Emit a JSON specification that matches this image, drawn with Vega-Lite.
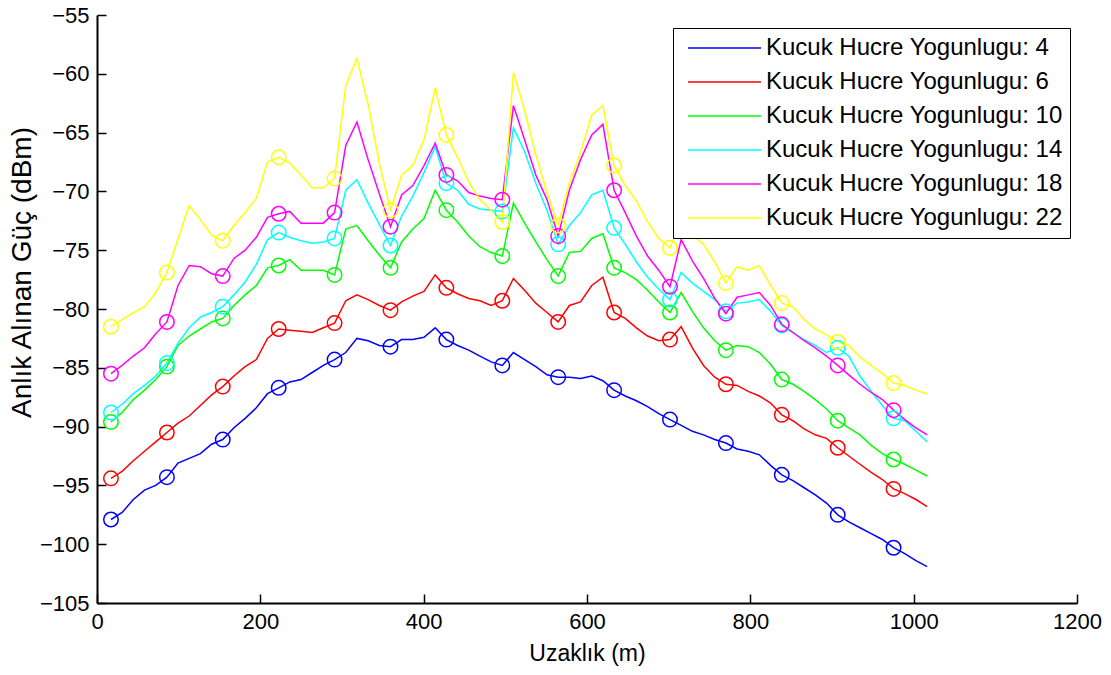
{
"$schema": "https://vega.github.io/schema/vega-lite/v6.json",
"width": 980, "height": 588,
"autosize": {"type": "none"},
"padding": {"left": 97, "top": 15, "right": 34, "bottom": 72},
"background": "white",
"config": {
 "view": {"stroke": null},
 "font": "Liberation Sans, Arial, sans-serif",
 "axis": {"grid": false, "domainColor": "black", "domainWidth": 2, "tickColor": "black", "tickWidth": 1.5, "tickSize": -9, "labelPadding": 17, "labelFontSize": 22, "labelColor": "black", "titleFontSize": 23, "titleFontWeight": "normal", "titleColor": "black", "labelFlush": false}
},
"data": {"values": [
{"n":4,"d":17.1,"p":-97.9,"o":1},{"n":4,"d":30.8,"p":-97.3},{"n":4,"d":44.5,"p":-96.2},{"n":4,"d":58.2,"p":-95.4},{"n":4,"d":71.9,"p":-95.0},
{"n":4,"d":85.6,"p":-94.3,"o":1},{"n":4,"d":99.2,"p":-93.1},{"n":4,"d":112.9,"p":-92.7},{"n":4,"d":126.6,"p":-92.3},{"n":4,"d":140.3,"p":-91.5},
{"n":4,"d":154.0,"p":-91.1,"o":1},{"n":4,"d":167.7,"p":-90.1},{"n":4,"d":181.4,"p":-89.3},{"n":4,"d":195.1,"p":-88.4},{"n":4,"d":208.8,"p":-87.2},
{"n":4,"d":222.5,"p":-86.7,"o":1},{"n":4,"d":236.1,"p":-86.2},{"n":4,"d":249.8,"p":-86.0},{"n":4,"d":263.5,"p":-85.4},{"n":4,"d":277.2,"p":-84.8},
{"n":4,"d":290.9,"p":-84.3,"o":1},{"n":4,"d":304.6,"p":-83.7},{"n":4,"d":318.3,"p":-82.5},{"n":4,"d":332.0,"p":-82.7},{"n":4,"d":345.7,"p":-83.1},
{"n":4,"d":359.4,"p":-83.2,"o":1},{"n":4,"d":373.0,"p":-82.6},{"n":4,"d":386.7,"p":-82.6},{"n":4,"d":400.4,"p":-82.4},{"n":4,"d":414.1,"p":-81.6},
{"n":4,"d":427.8,"p":-82.6,"o":1},{"n":4,"d":441.5,"p":-83.1},{"n":4,"d":455.2,"p":-83.5},{"n":4,"d":468.9,"p":-84.0},{"n":4,"d":482.6,"p":-84.5},
{"n":4,"d":496.3,"p":-84.8,"o":1},{"n":4,"d":509.9,"p":-83.7},{"n":4,"d":523.6,"p":-84.3},{"n":4,"d":537.3,"p":-84.9},{"n":4,"d":551.0,"p":-85.6},
{"n":4,"d":564.7,"p":-85.8,"o":1},{"n":4,"d":578.4,"p":-85.8},{"n":4,"d":592.1,"p":-85.9},{"n":4,"d":605.8,"p":-85.7},{"n":4,"d":619.5,"p":-86.1},
{"n":4,"d":633.2,"p":-86.9,"o":1},{"n":4,"d":646.8,"p":-87.4},{"n":4,"d":660.5,"p":-87.8},{"n":4,"d":674.2,"p":-88.3},{"n":4,"d":687.9,"p":-88.9},
{"n":4,"d":701.6,"p":-89.4,"o":1},{"n":4,"d":715.3,"p":-89.9},{"n":4,"d":729.0,"p":-90.4},{"n":4,"d":742.7,"p":-90.7},{"n":4,"d":756.4,"p":-91.1},
{"n":4,"d":770.1,"p":-91.4,"o":1},{"n":4,"d":783.7,"p":-91.9},{"n":4,"d":797.4,"p":-92.1},{"n":4,"d":811.1,"p":-92.4},{"n":4,"d":824.8,"p":-93.3},
{"n":4,"d":838.5,"p":-94.1,"o":1},{"n":4,"d":852.2,"p":-94.6},{"n":4,"d":865.9,"p":-95.2},{"n":4,"d":879.6,"p":-95.8},{"n":4,"d":893.3,"p":-96.5},
{"n":4,"d":907.0,"p":-97.5,"o":1},{"n":4,"d":920.6,"p":-98.1},{"n":4,"d":934.3,"p":-98.6},{"n":4,"d":948.0,"p":-99.1},{"n":4,"d":961.7,"p":-99.6},
{"n":4,"d":975.4,"p":-100.3,"o":1},{"n":4,"d":989.1,"p":-100.8},{"n":4,"d":1002.8,"p":-101.4},{"n":4,"d":1016.5,"p":-101.9},

{"n":6,"d":17.1,"p":-94.4,"o":1},{"n":6,"d":30.8,"p":-93.8},{"n":6,"d":44.5,"p":-92.9},{"n":6,"d":58.2,"p":-92.1},{"n":6,"d":71.9,"p":-91.3},
{"n":6,"d":85.6,"p":-90.5,"o":1},{"n":6,"d":99.2,"p":-89.7},{"n":6,"d":112.9,"p":-89.1},{"n":6,"d":126.6,"p":-88.2},{"n":6,"d":140.3,"p":-87.3},
{"n":6,"d":154.0,"p":-86.6,"o":1},{"n":6,"d":167.7,"p":-85.7},{"n":6,"d":181.4,"p":-84.9},{"n":6,"d":195.1,"p":-84.3},{"n":6,"d":208.8,"p":-82.5},
{"n":6,"d":222.5,"p":-81.7,"o":1},{"n":6,"d":236.1,"p":-81.8},{"n":6,"d":249.8,"p":-81.9},{"n":6,"d":263.5,"p":-82.0},{"n":6,"d":277.2,"p":-81.6},
{"n":6,"d":290.9,"p":-81.2,"o":1},{"n":6,"d":304.6,"p":-79.3},{"n":6,"d":318.3,"p":-78.8},{"n":6,"d":332.0,"p":-79.2},{"n":6,"d":345.7,"p":-79.7},
{"n":6,"d":359.4,"p":-80.1,"o":1},{"n":6,"d":373.0,"p":-79.4},{"n":6,"d":386.7,"p":-78.9},{"n":6,"d":400.4,"p":-78.5},{"n":6,"d":414.1,"p":-77.1},
{"n":6,"d":427.8,"p":-78.2,"o":1},{"n":6,"d":441.5,"p":-78.7},{"n":6,"d":455.2,"p":-79.1},{"n":6,"d":468.9,"p":-79.3},{"n":6,"d":482.6,"p":-79.7},
{"n":6,"d":496.3,"p":-79.3,"o":1},{"n":6,"d":509.9,"p":-77.4},{"n":6,"d":523.6,"p":-78.4},{"n":6,"d":537.3,"p":-79.5},{"n":6,"d":551.0,"p":-80.3},
{"n":6,"d":564.7,"p":-81.1,"o":1},{"n":6,"d":578.4,"p":-79.7},{"n":6,"d":592.1,"p":-79.4},{"n":6,"d":605.8,"p":-78.0},{"n":6,"d":619.5,"p":-77.3},
{"n":6,"d":633.2,"p":-80.3,"o":1},{"n":6,"d":646.8,"p":-80.8},{"n":6,"d":660.5,"p":-81.6},{"n":6,"d":674.2,"p":-82.3},{"n":6,"d":687.9,"p":-82.7},
{"n":6,"d":701.6,"p":-82.6,"o":1},{"n":6,"d":715.3,"p":-81.5},{"n":6,"d":729.0,"p":-83.3},{"n":6,"d":742.7,"p":-84.8},{"n":6,"d":756.4,"p":-85.8},
{"n":6,"d":770.1,"p":-86.4,"o":1},{"n":6,"d":783.7,"p":-86.5},{"n":6,"d":797.4,"p":-87.0},{"n":6,"d":811.1,"p":-87.4},{"n":6,"d":824.8,"p":-88.0},
{"n":6,"d":838.5,"p":-89.0,"o":1},{"n":6,"d":852.2,"p":-89.5},{"n":6,"d":865.9,"p":-90.2},{"n":6,"d":879.6,"p":-90.7},{"n":6,"d":893.3,"p":-91.0},
{"n":6,"d":907.0,"p":-91.8,"o":1},{"n":6,"d":920.6,"p":-92.5},{"n":6,"d":934.3,"p":-93.2},{"n":6,"d":948.0,"p":-93.9},{"n":6,"d":961.7,"p":-94.5},
{"n":6,"d":975.4,"p":-95.3,"o":1},{"n":6,"d":989.1,"p":-95.7},{"n":6,"d":1002.8,"p":-96.2},{"n":6,"d":1016.5,"p":-96.8},

{"n":10,"d":17.1,"p":-89.6,"o":1},{"n":10,"d":30.8,"p":-88.8},{"n":10,"d":44.5,"p":-87.7},{"n":10,"d":58.2,"p":-86.9},{"n":10,"d":71.9,"p":-86.0},
{"n":10,"d":85.6,"p":-84.9,"o":1},{"n":10,"d":99.2,"p":-83.1},{"n":10,"d":112.9,"p":-82.3},{"n":10,"d":126.6,"p":-81.7},{"n":10,"d":140.3,"p":-81.1},
{"n":10,"d":154.0,"p":-80.8,"o":1},{"n":10,"d":167.7,"p":-79.7},{"n":10,"d":181.4,"p":-78.8},{"n":10,"d":195.1,"p":-78.0},{"n":10,"d":208.8,"p":-76.5},
{"n":10,"d":222.5,"p":-76.3,"o":1},{"n":10,"d":236.1,"p":-75.8},{"n":10,"d":249.8,"p":-76.7},{"n":10,"d":263.5,"p":-76.7},{"n":10,"d":277.2,"p":-76.7},
{"n":10,"d":290.9,"p":-77.1,"o":1},{"n":10,"d":304.6,"p":-73.2},{"n":10,"d":318.3,"p":-72.9},{"n":10,"d":332.0,"p":-74.2},{"n":10,"d":345.7,"p":-75.4},
{"n":10,"d":359.4,"p":-76.5,"o":1},{"n":10,"d":373.0,"p":-74.3},{"n":10,"d":386.7,"p":-73.2},{"n":10,"d":400.4,"p":-72.3},{"n":10,"d":414.1,"p":-69.9},
{"n":10,"d":427.8,"p":-71.6,"o":1},{"n":10,"d":441.5,"p":-72.6},{"n":10,"d":455.2,"p":-73.8},{"n":10,"d":468.9,"p":-74.7},{"n":10,"d":482.6,"p":-75.2},
{"n":10,"d":496.3,"p":-75.5,"o":1},{"n":10,"d":509.9,"p":-71.0},{"n":10,"d":523.6,"p":-72.7},{"n":10,"d":537.3,"p":-74.3},{"n":10,"d":551.0,"p":-75.8},
{"n":10,"d":564.7,"p":-77.2,"o":1},{"n":10,"d":578.4,"p":-75.2},{"n":10,"d":592.1,"p":-75.1},{"n":10,"d":605.8,"p":-74.0},{"n":10,"d":619.5,"p":-73.6},
{"n":10,"d":633.2,"p":-76.5,"o":1},{"n":10,"d":646.8,"p":-76.9},{"n":10,"d":660.5,"p":-77.5},{"n":10,"d":674.2,"p":-78.4},{"n":10,"d":687.9,"p":-79.4},
{"n":10,"d":701.6,"p":-80.3,"o":1},{"n":10,"d":715.3,"p":-78.6},{"n":10,"d":729.0,"p":-80.2},{"n":10,"d":742.7,"p":-81.6},{"n":10,"d":756.4,"p":-82.7},
{"n":10,"d":770.1,"p":-83.5,"o":1},{"n":10,"d":783.7,"p":-83.1},{"n":10,"d":797.4,"p":-83.2},{"n":10,"d":811.1,"p":-83.7},{"n":10,"d":824.8,"p":-84.7},
{"n":10,"d":838.5,"p":-86.0,"o":1},{"n":10,"d":852.2,"p":-86.4},{"n":10,"d":865.9,"p":-87.0},{"n":10,"d":879.6,"p":-87.7},{"n":10,"d":893.3,"p":-88.5},
{"n":10,"d":907.0,"p":-89.5,"o":1},{"n":10,"d":920.6,"p":-90.1},{"n":10,"d":934.3,"p":-90.7},{"n":10,"d":948.0,"p":-91.6},{"n":10,"d":961.7,"p":-92.3},
{"n":10,"d":975.4,"p":-92.8,"o":1},{"n":10,"d":989.1,"p":-93.2},{"n":10,"d":1002.8,"p":-93.7},{"n":10,"d":1016.5,"p":-94.2},

{"n":14,"d":17.1,"p":-88.8,"o":1},{"n":14,"d":30.8,"p":-88.1},{"n":14,"d":44.5,"p":-87.2},{"n":14,"d":58.2,"p":-86.5},{"n":14,"d":71.9,"p":-85.7},
{"n":14,"d":85.6,"p":-84.6,"o":1},{"n":14,"d":99.2,"p":-82.9},{"n":14,"d":112.9,"p":-81.6},{"n":14,"d":126.6,"p":-80.7},{"n":14,"d":140.3,"p":-80.3},
{"n":14,"d":154.0,"p":-79.8,"o":1},{"n":14,"d":167.7,"p":-78.8},{"n":14,"d":181.4,"p":-77.7},{"n":14,"d":195.1,"p":-76.2},{"n":14,"d":208.8,"p":-74.1},
{"n":14,"d":222.5,"p":-73.5,"o":1},{"n":14,"d":236.1,"p":-73.9},{"n":14,"d":249.8,"p":-74.2},{"n":14,"d":263.5,"p":-74.4},{"n":14,"d":277.2,"p":-74.3},
{"n":14,"d":290.9,"p":-74.0,"o":1},{"n":14,"d":304.6,"p":-69.9},{"n":14,"d":318.3,"p":-69.0},{"n":14,"d":332.0,"p":-71.0},{"n":14,"d":345.7,"p":-72.8},
{"n":14,"d":359.4,"p":-74.6,"o":1},{"n":14,"d":373.0,"p":-72.1},{"n":14,"d":386.7,"p":-70.4},{"n":14,"d":400.4,"p":-68.4},{"n":14,"d":414.1,"p":-66.2},
{"n":14,"d":427.8,"p":-69.3,"o":1},{"n":14,"d":441.5,"p":-69.9},{"n":14,"d":455.2,"p":-71.1},{"n":14,"d":468.9,"p":-71.5},{"n":14,"d":482.6,"p":-71.6},
{"n":14,"d":496.3,"p":-71.7,"o":1},{"n":14,"d":509.9,"p":-64.6},{"n":14,"d":523.6,"p":-66.6},{"n":14,"d":537.3,"p":-69.3},{"n":14,"d":551.0,"p":-71.6},
{"n":14,"d":564.7,"p":-74.5,"o":1},{"n":14,"d":578.4,"p":-72.9},{"n":14,"d":592.1,"p":-71.8},{"n":14,"d":605.8,"p":-70.3},{"n":14,"d":619.5,"p":-69.9},
{"n":14,"d":633.2,"p":-73.1,"o":1},{"n":14,"d":646.8,"p":-74.5},{"n":14,"d":660.5,"p":-76.0},{"n":14,"d":674.2,"p":-77.3},{"n":14,"d":687.9,"p":-78.3},
{"n":14,"d":701.6,"p":-79.2,"o":1},{"n":14,"d":715.3,"p":-76.9},{"n":14,"d":729.0,"p":-77.8},{"n":14,"d":742.7,"p":-78.5},{"n":14,"d":756.4,"p":-79.2},
{"n":14,"d":770.1,"p":-80.2,"o":1},{"n":14,"d":783.7,"p":-79.5},{"n":14,"d":797.4,"p":-79.4},{"n":14,"d":811.1,"p":-79.2},{"n":14,"d":824.8,"p":-80.2},
{"n":14,"d":838.5,"p":-81.4,"o":1},{"n":14,"d":852.2,"p":-82.0},{"n":14,"d":865.9,"p":-82.6},{"n":14,"d":879.6,"p":-83.1},{"n":14,"d":893.3,"p":-83.7},
{"n":14,"d":907.0,"p":-83.3,"o":1},{"n":14,"d":920.6,"p":-84.0},{"n":14,"d":934.3,"p":-85.7},{"n":14,"d":948.0,"p":-87.0},{"n":14,"d":961.7,"p":-88.2},
{"n":14,"d":975.4,"p":-89.3,"o":1},{"n":14,"d":989.1,"p":-89.5},{"n":14,"d":1002.8,"p":-90.4},{"n":14,"d":1016.5,"p":-91.3},

{"n":18,"d":17.1,"p":-85.5,"o":1},{"n":18,"d":30.8,"p":-84.8},{"n":18,"d":44.5,"p":-84.0},{"n":18,"d":58.2,"p":-83.3},{"n":18,"d":71.9,"p":-82.1},
{"n":18,"d":85.6,"p":-81.1,"o":1},{"n":18,"d":99.2,"p":-78.0},{"n":18,"d":112.9,"p":-76.3},{"n":18,"d":126.6,"p":-76.4},{"n":18,"d":140.3,"p":-77.0},
{"n":18,"d":154.0,"p":-77.2,"o":1},{"n":18,"d":167.7,"p":-75.7},{"n":18,"d":181.4,"p":-75.0},{"n":18,"d":195.1,"p":-73.9},{"n":18,"d":208.8,"p":-72.2},
{"n":18,"d":222.5,"p":-71.9,"o":1},{"n":18,"d":236.1,"p":-71.7},{"n":18,"d":249.8,"p":-72.7},{"n":18,"d":263.5,"p":-72.7},{"n":18,"d":277.2,"p":-72.7},
{"n":18,"d":290.9,"p":-71.8,"o":1},{"n":18,"d":304.6,"p":-66.1},{"n":18,"d":318.3,"p":-64.1},{"n":18,"d":332.0,"p":-67.3},{"n":18,"d":345.7,"p":-70.2},
{"n":18,"d":359.4,"p":-73.0,"o":1},{"n":18,"d":373.0,"p":-70.3},{"n":18,"d":386.7,"p":-69.5},{"n":18,"d":400.4,"p":-67.8},{"n":18,"d":414.1,"p":-65.9},
{"n":18,"d":427.8,"p":-68.6,"o":1},{"n":18,"d":441.5,"p":-69.1},{"n":18,"d":455.2,"p":-70.1},{"n":18,"d":468.9,"p":-70.4},{"n":18,"d":482.6,"p":-70.6},
{"n":18,"d":496.3,"p":-70.7,"o":1},{"n":18,"d":509.9,"p":-62.7},{"n":18,"d":523.6,"p":-65.6},{"n":18,"d":537.3,"p":-68.6},{"n":18,"d":551.0,"p":-70.7},
{"n":18,"d":564.7,"p":-73.8,"o":1},{"n":18,"d":578.4,"p":-69.9},{"n":18,"d":592.1,"p":-67.3},{"n":18,"d":605.8,"p":-65.2},{"n":18,"d":619.5,"p":-64.3},
{"n":18,"d":633.2,"p":-69.9,"o":1},{"n":18,"d":646.8,"p":-71.8},{"n":18,"d":660.5,"p":-73.8},{"n":18,"d":674.2,"p":-75.5},{"n":18,"d":687.9,"p":-76.7},
{"n":18,"d":701.6,"p":-78.1,"o":1},{"n":18,"d":715.3,"p":-74.1},{"n":18,"d":729.0,"p":-75.9},{"n":18,"d":742.7,"p":-77.4},{"n":18,"d":756.4,"p":-79.1},
{"n":18,"d":770.1,"p":-80.4,"o":1},{"n":18,"d":783.7,"p":-79.0},{"n":18,"d":797.4,"p":-78.8},{"n":18,"d":811.1,"p":-78.6},{"n":18,"d":824.8,"p":-79.7},
{"n":18,"d":838.5,"p":-81.3,"o":1},{"n":18,"d":852.2,"p":-82.0},{"n":18,"d":865.9,"p":-82.7},{"n":18,"d":879.6,"p":-83.3},{"n":18,"d":893.3,"p":-84.0},
{"n":18,"d":907.0,"p":-84.8,"o":1},{"n":18,"d":920.6,"p":-85.6},{"n":18,"d":934.3,"p":-86.4},{"n":18,"d":948.0,"p":-87.1},{"n":18,"d":961.7,"p":-87.7},
{"n":18,"d":975.4,"p":-88.6,"o":1},{"n":18,"d":989.1,"p":-89.4},{"n":18,"d":1002.8,"p":-90.1},{"n":18,"d":1016.5,"p":-90.7},

{"n":22,"d":17.1,"p":-81.5,"o":1},{"n":22,"d":30.8,"p":-80.9},{"n":22,"d":44.5,"p":-80.3},{"n":22,"d":58.2,"p":-79.8},{"n":22,"d":71.9,"p":-78.6},
{"n":22,"d":85.6,"p":-76.9,"o":1},{"n":22,"d":99.2,"p":-74.0},{"n":22,"d":112.9,"p":-71.2},{"n":22,"d":126.6,"p":-72.4},{"n":22,"d":140.3,"p":-73.7},
{"n":22,"d":154.0,"p":-74.2,"o":1},{"n":22,"d":167.7,"p":-72.9},{"n":22,"d":181.4,"p":-71.8},{"n":22,"d":195.1,"p":-70.6},{"n":22,"d":208.8,"p":-67.5},
{"n":22,"d":222.5,"p":-67.1,"o":1},{"n":22,"d":236.1,"p":-67.6},{"n":22,"d":249.8,"p":-68.6},{"n":22,"d":263.5,"p":-69.7},{"n":22,"d":277.2,"p":-69.7},
{"n":22,"d":290.9,"p":-68.9,"o":1},{"n":22,"d":304.6,"p":-61.0},{"n":22,"d":318.3,"p":-58.7},{"n":22,"d":332.0,"p":-62.6},{"n":22,"d":345.7,"p":-67.6},
{"n":22,"d":359.4,"p":-71.6,"o":1},{"n":22,"d":373.0,"p":-68.6},{"n":22,"d":386.7,"p":-67.8},{"n":22,"d":400.4,"p":-65.6},{"n":22,"d":414.1,"p":-61.2},
{"n":22,"d":427.8,"p":-65.2,"o":1},{"n":22,"d":441.5,"p":-67.1},{"n":22,"d":455.2,"p":-69.2},{"n":22,"d":468.9,"p":-70.7},{"n":22,"d":482.6,"p":-71.6},
{"n":22,"d":496.3,"p":-72.6,"o":1},{"n":22,"d":509.9,"p":-59.9},{"n":22,"d":523.6,"p":-63.1},{"n":22,"d":537.3,"p":-66.9},{"n":22,"d":551.0,"p":-70.1},
{"n":22,"d":564.7,"p":-72.9,"o":1},{"n":22,"d":578.4,"p":-69.3},{"n":22,"d":592.1,"p":-66.7},{"n":22,"d":605.8,"p":-63.5},{"n":22,"d":619.5,"p":-62.7},
{"n":22,"d":633.2,"p":-67.8,"o":1},{"n":22,"d":646.8,"p":-69.5},{"n":22,"d":660.5,"p":-70.8},{"n":22,"d":674.2,"p":-72.6},{"n":22,"d":687.9,"p":-74.0},
{"n":22,"d":701.6,"p":-74.8,"o":1},{"n":22,"d":715.3,"p":-72.6},{"n":22,"d":729.0,"p":-73.7},{"n":22,"d":742.7,"p":-74.5},{"n":22,"d":756.4,"p":-76.0},
{"n":22,"d":770.1,"p":-77.8,"o":1},{"n":22,"d":783.7,"p":-76.4},{"n":22,"d":797.4,"p":-76.7},{"n":22,"d":811.1,"p":-76.3},{"n":22,"d":824.8,"p":-78.0},
{"n":22,"d":838.5,"p":-79.5,"o":1},{"n":22,"d":852.2,"p":-79.8},{"n":22,"d":865.9,"p":-80.9},{"n":22,"d":879.6,"p":-81.7},{"n":22,"d":893.3,"p":-82.2},
{"n":22,"d":907.0,"p":-82.8,"o":1},{"n":22,"d":920.6,"p":-83.1},{"n":22,"d":934.3,"p":-84.1},{"n":22,"d":948.0,"p":-84.8},{"n":22,"d":961.7,"p":-85.5},
{"n":22,"d":975.4,"p":-86.3,"o":1},{"n":22,"d":989.1,"p":-86.5},{"n":22,"d":1002.8,"p":-86.9},{"n":22,"d":1016.5,"p":-87.2}
]},
"encoding": {
 "x": {"field": "d", "type": "quantitative", "scale": {"domain": [0, 1200], "nice": false},
  "axis": {"values": [0, 200, 400, 600, 800, 1000, 1200], "format": "d", "title": "Uzaklık (m)", "titlePadding": 10}},
 "y": {"field": "p", "type": "quantitative", "scale": {"domain": [-105, -55], "nice": false, "zero": false},
  "axis": {"values": [-105, -100, -95, -90, -85, -80, -75, -70, -65, -60, -55], "format": "d", "title": "Anlık Alınan Güç (dBm)", "titleFontSize": 28, "titleX": -75, "titleY": 257, "titleBaseline": "middle", "titleAngle": -90}},
 "color": {"field": "n", "type": "nominal",
  "scale": {"domain": [4, 6, 10, 14, 18, 22], "range": ["#0000ff", "#ff0000", "#00ff00", "#00ffff", "#ff00ff", "#ffff00"]},
  "legend": {"orient": "none", "legendX": 576, "legendY": 13, "title": null,
   "labelExpr": "'Kucuk Hucre Yogunlugu: ' + datum.label",
   "symbolType": "stroke", "symbolSize": 5329, "symbolStrokeWidth": 1.5, "symbolOpacity": 1,
   "clipHeight": 26, "rowPadding": 8, "padding": 7, "symbolOffset": 7, "labelOffset": 4,
   "labelFontSize": 24, "labelColor": "black", "labelLimit": 400,
   "strokeColor": "black", "fillColor": "white"}}
},
"layer": [
 {"mark": {"type": "line", "strokeWidth": 1.5}},
 {"transform": [{"filter": "datum.o == 1"}],
  "mark": {"type": "point", "shape": "circle", "filled": false, "size": 210, "strokeWidth": 1.5, "opacity": 1}}
]
}
